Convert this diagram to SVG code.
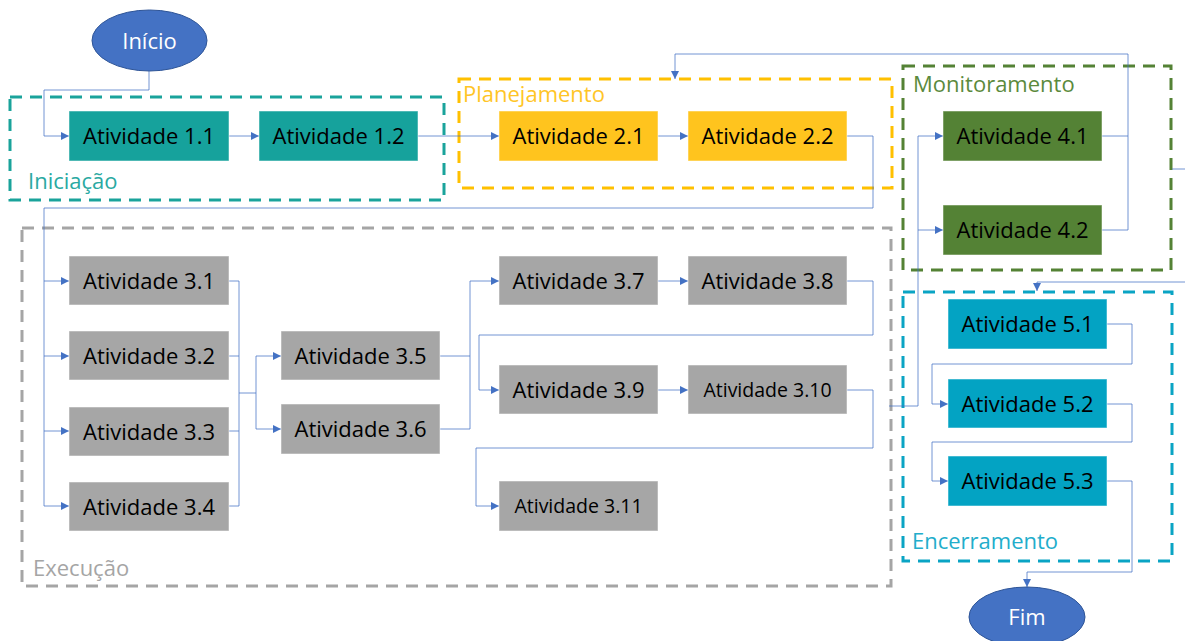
<svg xmlns="http://www.w3.org/2000/svg" width="1185" height="641" viewBox="0 0 1185 641">
<defs>
<marker id="arr" markerUnits="userSpaceOnUse" markerWidth="9" markerHeight="8" refX="8" refY="4" orient="auto">
<path d="M0,0 L8,4 L0,8 z" fill="#4472C4"/>
</marker>
<style>
text{font-family:"Open Sans","Noto Sans",sans-serif;font-size:22px;text-anchor:middle}
.lbl{text-anchor:start}
.box{stroke:#ffffff;stroke-opacity:0.5;stroke-width:1}
.t1{fill:#16A29C}
.t2{fill:#FFC41E}
.t3{fill:#A6A6A6}
.t4{fill:#548235}
.t5{fill:#03A3C3}
.cont{fill:none;stroke-width:3;stroke-dasharray:12 8}
.c{fill:none;stroke:#4472C4;stroke-width:1;stroke-opacity:0.75}
.a{marker-end:url(#arr)}
.sm{font-size:19.5px}
</style>
</defs>
<rect width="1185" height="641" fill="#ffffff"/>

<g id="containers">
<g id="iniciacao"><rect class="cont" x="10" y="97" width="434" height="103" stroke="#1AA39B"/><text class="lbl" x="28" y="189" fill="#2AA9A2">Iniciação</text></g>
<g id="planejamento"><rect class="cont" x="459" y="79" width="433" height="109" stroke="#FFC000"/><text class="lbl" x="463" y="102" fill="#FFC526">Planejamento</text></g>
<g id="execucao"><rect class="cont" x="22" y="228" width="869" height="358" stroke="#A5A5A5"/><text class="lbl" x="33" y="576" fill="#A5A5A5">Execução</text></g>
<g id="monitoramento"><rect class="cont" x="903" y="66" width="268" height="204" stroke="#548235"/><text class="lbl" x="913" y="92" fill="#5B8A3C">Monitoramento</text></g>
<g id="encerramento"><rect class="cont" x="903" y="292" width="269" height="269" stroke="#0AA4C4"/><text class="lbl" x="912" y="549" fill="#22ADCB">Encerramento</text></g>
</g>

<g id="connectors">
<path class="c a" d="M149,71 V90 H44 V136 H69"/>
<path class="c a" d="M229,136 H259"/>
<path class="c a" d="M418,136 H499"/>
<path class="c a" d="M658,136 H688"/>
<path class="c a" d="M847,136 H873 V208 H44 V506 H69"/>
<path class="c a" d="M44,281 H69"/>
<path class="c a" d="M44,356 H69"/>
<path class="c a" d="M44,431 H69"/>
<path class="c" d="M229,281 H239 V506 H229 M229,356 H239 M229,431 H239 M239,393 H256 M256,356 V429"/>
<path class="c a" d="M256,356 H281"/>
<path class="c a" d="M256,429 H281"/>
<path class="c" d="M440,356 H470"/>
<path class="c a" d="M440,429 H470 V281 H499"/>
<path class="c a" d="M658,281 H688"/>
<path class="c a" d="M847,281 H873 V335 H479 V390 H499"/>
<path class="c a" d="M658,390 H688"/>
<path class="c a" d="M847,390 H873 V448 H476 V506 H499"/>
<path class="c a" d="M889,406 H918 V136 H943"/>
<path class="c a" d="M918,230 H943"/>
<path class="c a" d="M1102,136 H1128 V54 H675 V79"/>
<path class="c" d="M1102,230 H1128 V136"/>
<path class="c a" d="M1172,169 H1195 V282 H1037 V291"/>
<path class="c a" d="M1107,324 H1132 V364 H932 V404 H948"/>
<path class="c a" d="M1107,404 H1132 V442 H932 V481 H948"/>
<path class="c a" d="M1107,481 H1132 V572 H1027 V587"/>
</g>

<g id="inicio"><ellipse cx="149.5" cy="40.5" rx="57.5" ry="30.5" fill="#4472C4" stroke="#2F5597" stroke-width="1"/><text x="149.5" y="49" fill="#ffffff">Início</text></g>
<g id="fim"><ellipse cx="1027" cy="617" rx="58" ry="30" fill="#4472C4" stroke="#2F5597" stroke-width="1"/><text x="1027" y="625" fill="#ffffff">Fim</text></g>

<g id="a11"><rect class="box t1" x="69" y="111" width="160" height="50"/><text x="149" y="144">Atividade 1.1</text></g>
<g id="a12"><rect class="box t1" x="259" y="111" width="159" height="50"/><text x="338.5" y="144">Atividade 1.2</text></g>
<g id="a21"><rect class="box t2" x="499" y="111" width="159" height="50"/><text x="578.5" y="144">Atividade 2.1</text></g>
<g id="a22"><rect class="box t2" x="688" y="111" width="159" height="50"/><text x="767.5" y="144">Atividade 2.2</text></g>

<g id="a31"><rect class="box t3" x="69" y="256" width="160" height="49"/><text x="149" y="288.5">Atividade 3.1</text></g>
<g id="a32"><rect class="box t3" x="69" y="331" width="160" height="49"/><text x="149" y="363.5">Atividade 3.2</text></g>
<g id="a33"><rect class="box t3" x="69" y="407" width="160" height="49"/><text x="149" y="439.5">Atividade 3.3</text></g>
<g id="a34"><rect class="box t3" x="69" y="482" width="160" height="49"/><text x="149" y="514.5">Atividade 3.4</text></g>
<g id="a35"><rect class="box t3" x="281" y="331" width="159" height="49"/><text x="360.5" y="363.5">Atividade 3.5</text></g>
<g id="a36"><rect class="box t3" x="281" y="404" width="159" height="50"/><text x="360.5" y="437">Atividade 3.6</text></g>
<g id="a37"><rect class="box t3" x="499" y="256" width="159" height="49"/><text x="578.5" y="288.5">Atividade 3.7</text></g>
<g id="a38"><rect class="box t3" x="688" y="256" width="159" height="49"/><text x="767.5" y="288.5">Atividade 3.8</text></g>
<g id="a39"><rect class="box t3" x="499" y="365" width="159" height="49"/><text x="578.5" y="397.5">Atividade 3.9</text></g>
<g id="a310"><rect class="box t3" x="688" y="365" width="159" height="49"/><text class="sm" x="767.5" y="397">Atividade 3.10</text></g>
<g id="a311"><rect class="box t3" x="499" y="481" width="159" height="50"/><text class="sm" x="578.5" y="513">Atividade 3.11</text></g>

<g id="a41"><rect class="box t4" x="943" y="111" width="159" height="50"/><text x="1022.5" y="144">Atividade 4.1</text></g>
<g id="a42"><rect class="box t4" x="943" y="205" width="159" height="50"/><text x="1022.5" y="238">Atividade 4.2</text></g>

<g id="a51"><rect class="box t5" x="948" y="299" width="159" height="50"/><text x="1027.5" y="332">Atividade 5.1</text></g>
<g id="a52"><rect class="box t5" x="948" y="379" width="159" height="49"/><text x="1027.5" y="411.5">Atividade 5.2</text></g>
<g id="a53"><rect class="box t5" x="948" y="456" width="159" height="50"/><text x="1027.5" y="489">Atividade 5.3</text></g>
</svg>
